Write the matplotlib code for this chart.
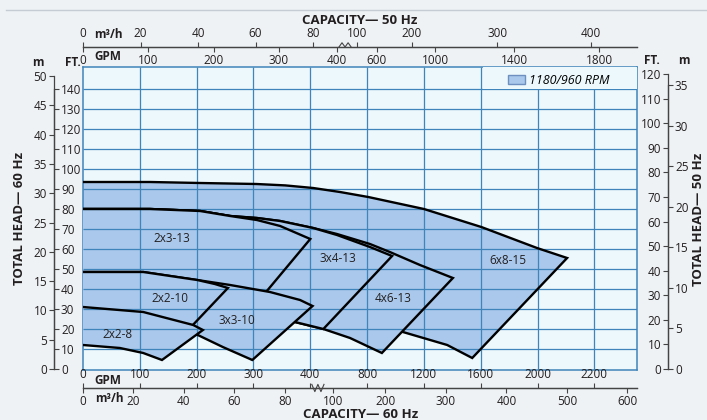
import numpy as np
import matplotlib.pyplot as plt
from matplotlib.patches import Patch, Rectangle
from matplotlib.lines import Line2D

plt.rcParams['font.family'] = ['Open Sans', 'DejaVu Sans']

# pump envelopes at 60 Hz (capacity GPM, head ft)
# outline = top curve left->tip, then bottom tip, then bottom curve back to 0 GPM
q_6x8_15 = [0, 118, 206, 305, 356, 420, 609, 808, 1200, 1604, 1996, 2208, 1540, 1364, 1052, 680, 382, 206, 0]
h_6x8_15 = [93.5, 93.5, 93, 92.5, 91.8, 90.5, 88.5, 86, 80, 71, 60.5, 55.5, 5.5, 12, 18.5, 25.5, 30.5, 35.5, 38.5]
q_4x6_13 = [0, 118, 206, 259, 306, 347, 420, 588, 820, 960, 1172, 1404, 904, 680, 492, 373, 294, 206, 0]
h_4x6_13 = [80, 80, 79, 76.5, 75.5, 74, 70.5, 67.5, 62.5, 58.5, 52, 45.5, 8, 15.5, 20, 23.5, 28.5, 32, 36.5]
q_3x4_13 = [0, 118, 206, 259, 306, 347, 420, 588, 820, 976, 492, 373, 294, 206, 0]
h_3x4_13 = [80, 80, 79, 76.5, 75.5, 74, 70.5, 67, 61, 56.5, 20, 23.5, 28.5, 32, 36.5]
q_2x3_13 = [0, 118, 206, 259, 306, 347, 400, 303, 206, 0]
h_2x3_13 = [80, 80, 79, 76.5, 74.5, 71.5, 65, 32, 39.5, 44.5]
q_3x3_10 = [0, 106, 201, 259, 329, 382, 416, 298, 246, 202, 118, 0]
h_3x3_10 = [48.5, 48.5, 44.5, 42, 38.5, 34.5, 31.5, 4.5, 11, 17, 23.5, 27]
q_2x2_10 = [0, 106, 201, 232, 255, 180, 106, 0]
h_2x2_10 = [48.5, 48.5, 44.5, 42.5, 40.5, 18, 23.5, 26.5]
q_2x2_8 = [0, 106, 194, 211, 139, 106, 65, 0]
h_2x2_8 = [31, 28.5, 22, 19.5, 4.5, 8, 10.5, 12]

names = ['6x8-15', '4x6-13', '3x4-13', '2x3-13', '3x3-10', '2x2-10', '2x2-8']
outlines_q = [q_6x8_15, q_4x6_13, q_3x4_13, q_2x3_13, q_3x3_10, q_2x2_10, q_2x2_8]
outlines_h = [h_6x8_15, h_4x6_13, h_3x4_13, h_2x3_13, h_3x3_10, h_2x2_10, h_2x2_8]
label_q = [1792, 984, 596, 157, 271, 153, 60]
label_h = [54.5, 35, 55, 65, 24.5, 35.5, 17]

# axis scales
gpm_bot = [0, 100, 200, 300, 400, 800, 1200, 1600, 2000, 2400]
gpm_bot_lbl = ['0', '100', '200', '300', '400', '800', '1200', '1600', '2000', '2200']
m3h_bot = [0, 20, 40, 60, 80, 100, 200, 300, 400, 500, 600]
gpm_top = [0, 100, 200, 300, 400, 600, 1000, 1400, 1800]
m3h_top = [0, 20, 40, 60, 80, 100, 200, 300, 400]
ft_left = list(range(0, 150, 10))
m_left = list(range(0, 55, 5))
ft_right = list(range(0, 130, 10))
m_right = list(range(0, 40, 5))

FILL = '#a9c8eb'
GRID = '#3f84ba'
BG = '#ecf8fc'
INK = '#231f20'


def gpm_u(q):
    return np.interp(q, [0, 400, 2400], [0, 4, 9])


def m3h_bot_u(v):
    return np.interp(v, [0, 80, 100, 200, 600], [0, 3.55, 4.40, 5.32, 9.58])


def m3h_top_u(v):
    return np.interp(v, [0, 80, 100, 200, 300, 400, 450], [0, 4.05, 4.82, 5.79, 7.29, 8.94, 9.76])


fig = plt.figure(figsize=(7.07, 4.2), dpi=100, facecolor='#eef2f5')
ax = fig.add_axes([83 / 707, 50 / 420, 554 / 707, 303 / 420])
ax.set_facecolor(BG)
ax.set_xlim(0, 9.75)
ax.set_ylim(-0.5, 151)
ax.set_xticks([])
ax.set_yticks([])
for s in ax.spines.values():
    s.set_color(GRID)
    s.set_linewidth(1.1)

grid_u = np.arange(1, 10)
grid_h = np.arange(10, 150, 10)
ax.vlines(grid_u, -0.5, 151, color=GRID, lw=0.9, zorder=1)
ax.hlines(grid_h, 0, 9.75, color=GRID, lw=0.9, zorder=1)

# big pumps first, smaller ones laid over them
for i, (q, h) in enumerate(zip(outlines_q, outlines_h)):
    u = gpm_u(q)
    z = 2 + 3 * i
    poly = ax.fill(u, h, color=FILL, lw=0, zorder=z)[0]
    gv = ax.vlines(grid_u, -0.5, 151, color=GRID, lw=0.9, zorder=z + 1)
    gh = ax.hlines(grid_h, 0, 9.75, color=GRID, lw=0.9, zorder=z + 1)
    gv.set_clip_path(poly)
    gh.set_clip_path(poly)
    ax.plot(u, h, color='black', lw=1.7, zorder=z + 2, solid_joinstyle='miter')

for name, q, h in zip(names, label_q, label_h):
    ax.text(gpm_u(q), h, name, fontsize=8.5, color=INK, ha='center', va='center', zorder=40)

# legend in the top-right cell
ax.add_patch(Rectangle((0.722, 0.927), 0.278, 0.073, transform=ax.transAxes,
                       facecolor=BG, edgecolor='none', zorder=30))
leg = ax.legend(handles=[Patch(facecolor=FILL, edgecolor='#6f8fc0', label='1180/960 RPM')],
                loc='center left', bbox_to_anchor=(0.767, 0.957), frameon=False,
                borderpad=0, borderaxespad=0, handlelength=1.4, handleheight=0.7,
                handletextpad=0.25, prop={'style': 'italic', 'size': 9})
leg.set_zorder(50)


def scale_axis(axis, spine, pos, lim, ticks, labels, bounds=None):
    a = fig.add_axes(ax.get_position())
    a.patch.set_visible(False)
    for s in a.spines.values():
        s.set_visible(False)
    sp = a.spines[spine]
    sp.set_visible(True)
    sp.set_position(('axes', pos))
    sp.set_color('#444')
    sp.set_linewidth(0.9)
    if axis == 'y':
        a.set_ylim(*lim)
        a.set_xticks([])
        a.yaxis.set_ticks_position(spine)
        a.set_yticks(ticks, labels)
    else:
        a.set_xlim(*lim)
        a.set_yticks([])
        a.xaxis.set_ticks_position(spine)
        a.set_xticks(ticks, labels)
    if bounds is not None:
        sp.set_bounds(*bounds)
    a.tick_params(direction='out', length=3.5, width=0.8, color='#444',
                  labelsize=8.5, pad=1.5, labelcolor=INK)
    return a


# left: m (outer) and ft (inner) on one line
scale_axis('y', 'left', -0.0523, (-0.17, 51.54), m_left, [str(v) for v in m_left], (0, 50))
scale_axis('y', 'right', -0.0523, (-0.5, 151), ft_left, [str(v) for v in ft_left], (0, 140))
# right: ft (inner) and m (outer)
scale_axis('y', 'left', 1.056, (-0.41, 122.86), ft_right, [str(v) for v in ft_right], (0, 120))
scale_axis('y', 'right', 1.056, (-0.12, 37.22), m_right, [str(v) for v in m_right], (0, 35))
# bottom: GPM above the line, m3/h below
scale_axis('x', 'top', -0.0594, (0, 9.75), gpm_u(gpm_bot), gpm_bot_lbl)
scale_axis('x', 'bottom', -0.0594, (0, 9.75), m3h_bot_u(m3h_bot), [str(v) for v in m3h_bot])
# top: m3/h above the line, GPM below
scale_axis('x', 'top', 1.066, (0, 9.75), m3h_top_u(m3h_top), [str(v) for v in m3h_top])
scale_axis('x', 'bottom', 1.066, (0, 9.75), m3h_top_u(np.array(gpm_top) * 0.2271),
           [str(v) for v in gpm_top])

# break marks on the capacity scales
zx = np.array([-1, -0.5, 0, 0.5, 1]) * 0.011
ax.plot(0.424 + zx, -0.0594 + np.array([0.012, -0.012, 0.012, -0.012, 0.012]),
        transform=ax.transAxes, clip_on=False, color='#444', lw=0.8)
ax.plot(0.473 + zx, 1.066 + np.array([0, 0.014, 0, 0.014, 0]),
        transform=ax.transAxes, clip_on=False, color='#444', lw=0.8)


def ftext(px, py, s, **kw):
    fig.text(px / 707, 1 - py / 420, s, color=INK, ha='center', va='center', **kw)


ftext(108, 34, 'm³/h', fontsize=8.5, fontweight='bold')
ftext(108, 56, 'GPM', fontsize=8.5, fontweight='bold')
ftext(108, 380, 'GPM', fontsize=8.5, fontweight='bold')
ftext(109, 398, 'm³/h', fontsize=8.5, fontweight='bold')
ftext(38, 63, 'm', fontsize=8.5, fontweight='bold')
ftext(73, 63, 'FT.', fontsize=8.5, fontweight='bold')
ftext(652, 61, 'FT.', fontsize=8.5, fontweight='bold')
ftext(684, 61, 'm', fontsize=8.5, fontweight='bold')
ftext(360, 21, 'CAPACITY— 50 Hz', fontsize=9.5, fontweight='bold')
ftext(361, 414, 'CAPACITY— 60 Hz', fontsize=9.5, fontweight='bold')
ftext(20, 218, 'TOTAL HEAD— 60 Hz', fontsize=9.5, fontweight='bold', rotation=90)
ftext(699, 219, 'TOTAL HEAD— 50 Hz', fontsize=9.5, fontweight='bold', rotation=90)

fig.add_artist(Line2D([6 / 707, 1], [1 - 10 / 420, 1 - 10 / 420], color='#c5ccd3', lw=1))

fig.savefig('out.png', dpi=100, facecolor=fig.get_facecolor())
